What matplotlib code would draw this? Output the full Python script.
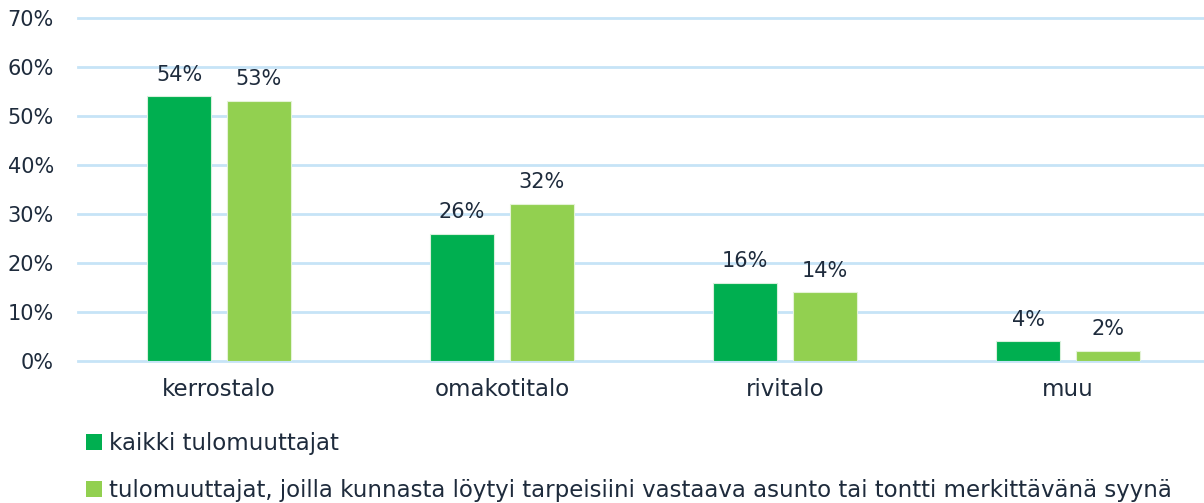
import matplotlib
matplotlib.use("Agg")
import matplotlib.pyplot as plt
import numpy as np
from matplotlib.patches import Patch

categories = ["kerrostalo", "omakotitalo", "rivitalo", "muu"]
series_names = ["kaikki tulomuuttajat",
                "tulomuuttajat, joilla kunnasta löytyi tarpeisiini vastaava asunto tai tontti merkittävänä syynä"]
values_all = [54, 26, 16, 4]
values_found = [53, 32, 14, 2]
yticks = [0, 10, 20, 30, 40, 50, 60, 70]

colors = ["#00AF50", "#92D050"]
text_color = "#1E2B3C"
grid_color = "#C6E4F7"

plt.rcParams['font.family'] = ['DejaVu Sans']

fig = plt.figure(figsize=(12.04, 5.03), dpi=100)
W, H = 1204, 503
left, right = 77.5, 1209.5
top, bottom = 18, 361
ax = fig.add_axes([left / W, 1 - bottom / H, (right - left) / W, (bottom - top) / H])

x = np.arange(len(categories))
bw = 0.226
off = 0.1413
b1 = ax.bar(x - off, values_all, bw, color=colors[0], edgecolor="#D8F0DC", linewidth=0.8, zorder=3)
b2 = ax.bar(x + off, values_found, bw, color=colors[1], edgecolor="#E4F3D6", linewidth=0.8, zorder=3)

for bars, vals in ((b1, values_all), (b2, values_found)):
    for r, v in zip(bars, vals):
        ax.annotate(f"{v}%", (r.get_x() + r.get_width() / 2, v), xytext=(0, 8.5),
                    textcoords="offset points", ha="center", va="bottom",
                    fontsize=15, color=text_color)

ax.set_xlim(-0.5, len(categories) - 0.5)
ax.set_ylim(0, 70)
ax.set_yticks(yticks)
ax.set_yticklabels([f"{t}%" for t in yticks])
ax.set_xticks(x)
ax.set_xticklabels(categories)
ax.tick_params(axis='both', length=0, colors=text_color)
ax.tick_params(axis='y', pad=17, labelsize=15)
ax.tick_params(axis='x', pad=12, labelsize=16.5)
for t in ax.get_xticklabels() + ax.get_yticklabels():
    t.set_color(text_color)
ax.yaxis.grid(True, color=grid_color, linewidth=2, zorder=0)
for gl in ax.get_ygridlines():
    gl.set_clip_on(False)
for s in ax.spines.values():
    s.set_visible(False)

handles = [Patch(facecolor=colors[0]), Patch(facecolor=colors[1])]
leg = fig.legend(handles, series_names, loc="upper left", bbox_to_anchor=(86 / W, 1 - 432 / H),
                 frameon=False, fontsize=16.5, handlelength=0.7, handleheight=0.7,
                 handletextpad=0.3, labelspacing=1.06, borderpad=0, borderaxespad=0)
for t in leg.get_texts():
    t.set_color(text_color)

fig.savefig("out.png", dpi=100)
